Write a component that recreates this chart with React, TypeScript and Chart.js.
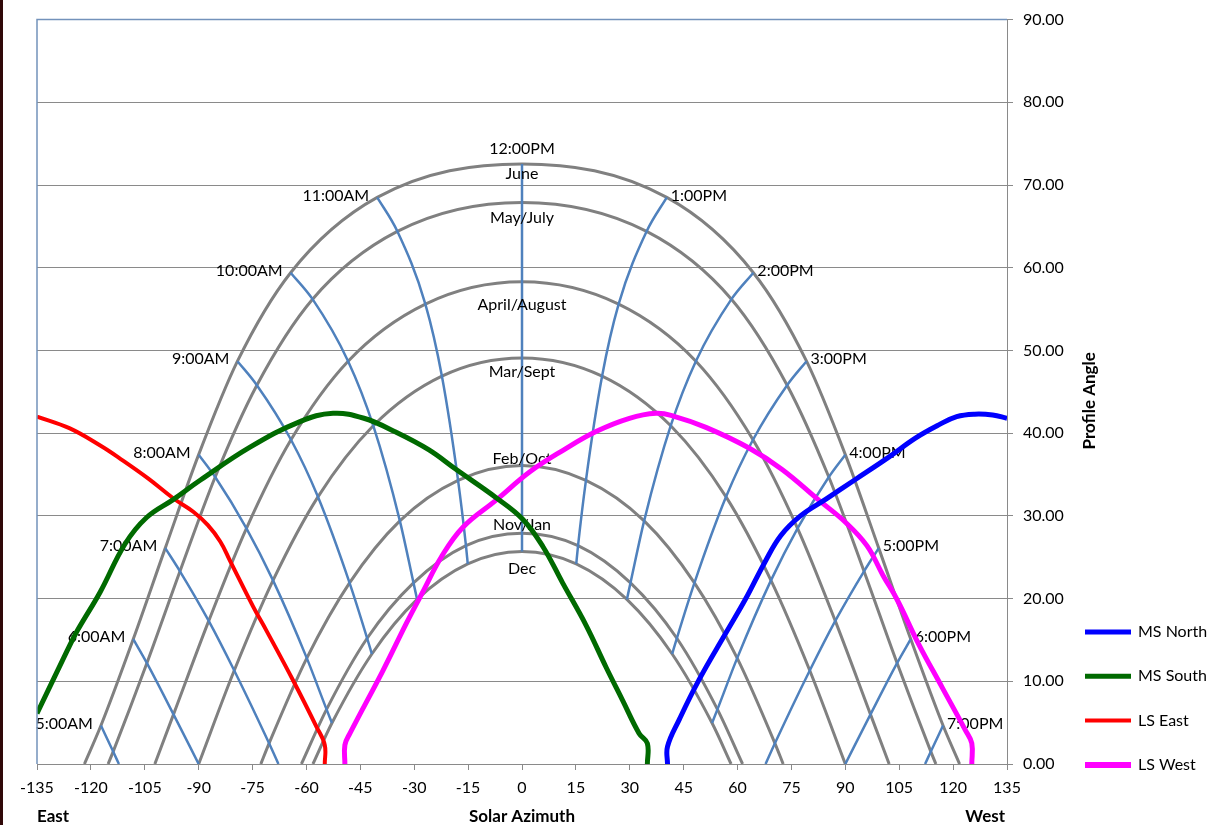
import { useEffect, useRef } from "react";
import { Chart, registerables } from "chart.js";

Chart.register(...registerables);

type P = [number, number];

// ---- axis ranges / ticks ----
const AZ_MIN = -135;
const AZ_MAX = 135;
const AZ_STEP = 15;
const ANGLE_MIN = 0;
const ANGLE_MAX = 90;
const ANGLE_STEP = 10;

// ---- monthly sun path arcs (solar azimuth, angle) ----
const MONTH_NAMES = ["June", "May/July", "April/August", "Mar/Sept", "Feb/Oct", "Nov/Jan", "Dec"];
const JUNE: P[] = [[-121.8, 0], [-117.2, 4.65], [-108.2, 15.1], [-99.3, 26.1], [-90.0, 37.4], [-79.2, 48.7], [-64.4, 59.4], [-40.3, 68.5], [0, 72.55], [40.3, 68.5], [64.4, 59.4], [79.2, 48.7], [90.0, 37.4], [99.3, 26.1], [108.2, 15.1], [117.2, 4.65], [121.8, 0]];
const MAY_JULY: P[] = [[-115.2, 0], [-113.8, 1.5], [-104.4, 12.2], [-95.2, 23.3], [-85.4, 34.7], [-73.8, 45.8], [-58.3, 56.2], [-34.7, 64.4], [0, 67.9], [34.7, 64.4], [58.3, 56.2], [73.8, 45.8], [85.4, 34.7], [95.2, 23.3], [104.4, 12.2], [113.8, 1.5], [115.2, 0]];
const APRIL_AUGUST: P[] = [[-102.2, 0], [-97.0, 6.0], [-87.2, 17.3], [-76.7, 28.5], [-64.3, 39.2], [-48.4, 48.7], [-26.9, 55.6], [0, 58.3], [26.9, 55.6], [48.4, 48.7], [64.3, 39.2], [76.7, 28.5], [87.2, 17.3], [97.0, 6.0], [102.2, 0]];
const MAR_SEPT: P[] = [[-90, 0], [-80.1, 11.3], [-69.3, 22.2], [-56.8, 32.3], [-41.4, 40.9], [-22.3, 46.9], [0, 49.1], [22.3, 46.9], [41.4, 40.9], [56.8, 32.3], [69.3, 22.2], [80.1, 11.3], [90, 0]];
const FEB_OCT: P[] = [[-72.7, 0], [-70.4, 2.5], [-59.9, 12.8], [-48.0, 21.9], [-34.0, 29.4], [-17.8, 34.3], [0, 36.1], [17.8, 34.3], [34.0, 29.4], [48.0, 21.9], [59.9, 12.8], [70.4, 2.5], [72.7, 0]];
const NOV_JAN: P[] = [[-61.4, 0], [-54.4, 6.6], [-43.1, 15.2], [-30.2, 21.9], [-15.6, 26.4], [0, 27.9], [15.6, 26.4], [30.2, 21.9], [43.1, 15.2], [54.4, 6.6], [61.4, 0]];
const DEC: P[] = [[-58.2, 0], [-52.9, 4.95], [-41.8, 13.3], [-29.2, 19.9], [-15.1, 24.2], [0, 25.7], [15.1, 24.2], [29.2, 19.9], [41.8, 13.3], [52.9, 4.95], [58.2, 0]];
const MONTH_ARCS: P[][] = [JUNE, MAY_JULY, APRIL_AUGUST, MAR_SEPT, FEB_OCT, NOV_JAN, DEC];

// ---- hour lines ----
const HOUR_NAMES = ["5:00AM", "6:00AM", "7:00AM", "8:00AM", "9:00AM", "10:00AM", "11:00AM", "12:00PM", "1:00PM", "2:00PM", "3:00PM", "4:00PM", "5:00PM", "6:00PM", "7:00PM"];
const H05: P[] = [[-117.2, 4.65], [-113.8, 1.5], [-112.2, 0]];
const H06: P[] = [[-108.2, 15.1], [-104.4, 12.2], [-97.0, 6.0], [-90.0, 0]];
const H07: P[] = [[-99.3, 26.1], [-95.2, 23.3], [-87.2, 17.3], [-80.1, 11.3], [-70.4, 2.5], [-67.8, 0]];
const H08: P[] = [[-90.0, 37.4], [-85.4, 34.7], [-76.7, 28.5], [-69.3, 22.2], [-59.9, 12.8], [-54.4, 6.6], [-52.9, 4.95]];
const H09: P[] = [[-79.2, 48.7], [-73.8, 45.8], [-64.3, 39.2], [-56.8, 32.3], [-48.0, 21.9], [-43.1, 15.2], [-41.8, 13.3]];
const H10: P[] = [[-64.4, 59.4], [-58.3, 56.2], [-48.4, 48.7], [-41.4, 40.9], [-34.0, 29.4], [-30.2, 21.9], [-29.2, 19.9]];
const H11: P[] = [[-40.3, 68.5], [-34.7, 64.4], [-26.9, 55.6], [-22.3, 46.9], [-17.8, 34.3], [-15.6, 26.4], [-15.1, 24.2]];
const H12: P[] = [[0, 72.55], [0, 67.9], [0, 58.3], [0, 49.1], [0, 36.1], [0, 27.9], [0, 25.7]];
const H13: P[] = [[40.3, 68.5], [34.7, 64.4], [26.9, 55.6], [22.3, 46.9], [17.8, 34.3], [15.6, 26.4], [15.1, 24.2]];
const H14: P[] = [[64.4, 59.4], [58.3, 56.2], [48.4, 48.7], [41.4, 40.9], [34.0, 29.4], [30.2, 21.9], [29.2, 19.9]];
const H15: P[] = [[79.2, 48.7], [73.8, 45.8], [64.3, 39.2], [56.8, 32.3], [48.0, 21.9], [43.1, 15.2], [41.8, 13.3]];
const H16: P[] = [[90.0, 37.4], [85.4, 34.7], [76.7, 28.5], [69.3, 22.2], [59.9, 12.8], [54.4, 6.6], [52.9, 4.95]];
const H17: P[] = [[99.3, 26.1], [95.2, 23.3], [87.2, 17.3], [80.1, 11.3], [70.4, 2.5], [67.8, 0]];
const H18: P[] = [[108.2, 15.1], [104.4, 12.2], [97.0, 6.0], [90.0, 0]];
const H19: P[] = [[117.2, 4.65], [113.8, 1.5], [112.2, 0]];
const HOUR_LINES: P[][] = [H05, H06, H07, H08, H09, H10, H11, H12, H13, H14, H15, H16, H17, H18, H19];

// ---- profile-angle series ----
const SERIES_NAMES = ["MS North", "MS South", "LS East", "LS West"];
const MS_NORTH: P[] = [[40.5, 0], [40.5, 2.1], [43.8, 5.4], [49.3, 10.2], [56.7, 15.8], [62.3, 20.0], [67.6, 24.4], [72.0, 27.6], [77.5, 30.0], [84.5, 32.0], [92.8, 34.4], [102.1, 37.1], [109.5, 39.4], [116.0, 41.0], [121.0, 42.0], [126.0, 42.3], [131.0, 42.2], [135.0, 41.8]];
const MS_SOUTH: P[] = [[-135, 6.1], [-126.6, 13.7], [-123.8, 16.1], [-117.4, 20.8], [-110.5, 26.6], [-104.5, 29.8], [-97.0, 32.0], [-89.6, 34.3], [-75.7, 38.3], [-61.8, 41.4], [-52.6, 42.4], [-44.0, 41.8], [-35.0, 40.1], [-26.0, 38.0], [-18.3, 35.6], [-7.2, 32.2], [0.2, 29.6], [5.8, 26.3], [11.3, 21.9], [17.8, 16.8], [23.4, 11.7], [28.0, 7.7], [32.6, 3.7], [34.9, 2.5], [34.9, 0]];
const LS_EAST: P[] = [[-135, 42.0], [-126, 40.6], [-117.4, 38.5], [-111.8, 36.9], [-104, 34.5], [-97, 32.1], [-91.5, 30.5], [-87.5, 28.9], [-84, 26.9], [-81.3, 24.6], [-74.8, 19.0], [-71.1, 16.1], [-63.7, 10.1], [-57.2, 4.5], [-54.9, 2.3], [-54.9, 0]];
const LS_WEST: P[] = [[-49.3, 0], [-49.3, 2.3], [-47.9, 3.7], [-38.7, 11.3], [-32.2, 17.0], [-27.5, 20.9], [-22.5, 25.0], [-16.5, 28.6], [-7.2, 31.9], [2.1, 35.3], [11.3, 37.9], [20.6, 40.2], [29.9, 41.8], [37.3, 42.4], [41.9, 42.1], [51.2, 40.7], [63.2, 38.2], [72.4, 35.6], [82.6, 31.9], [90.1, 29.2], [96.0, 26.4], [100.5, 22.8], [104.5, 19.8], [110.4, 14.5], [116.9, 9.3], [123.4, 4.1], [125.2, 2.5], [125.2, 0]];
const SERIES: P[][] = [MS_NORTH, MS_SOUTH, LS_EAST, LS_WEST];

// ---- styles (kept apart from data) ----
const SERIES_COLORS = ["#0000ff", "#006a00", "#ff0000", "#ff00ff"];
const SERIES_WIDTHS = [5, 5, 4, 5];
const LEGEND_WIDTHS = [5, 5, 4, 6];
const ARC_COLOR = "#808080";
const HOUR_COLOR = "#4f81bd";
const GRID_COLOR = "#8a8a8a";
const FONT = "Lato, 'Open Sans', sans-serif";
const MONTH_LABEL_OFFSETS = [10, 15, 23, 14, -7, -8, 17];

const toXY = (pts: P[]) => pts.map(([x, y]) => ({ x, y }));

const labelsPlugin = {
  id: "sunPathLabels",
  afterDatasetDraw(chart: any, args: any) {
    // draw labels after the hour lines, beneath the coloured series
    if (args.index !== SERIES.length) return;
    const { ctx, scales } = chart;
    const xs = scales.x;
    const ys = scales.y;
    ctx.save();
    ctx.font = `16px ${FONT}`;
    ctx.fillStyle = "#000";
    ctx.textBaseline = "middle";
    HOUR_LINES.forEach((pts, i) => {
      const [az, alt] = pts[0];
      const px = xs.getPixelForValue(az);
      const py = ys.getPixelForValue(alt);
      if (az < 0) {
        ctx.textAlign = "right";
        ctx.fillText(HOUR_NAMES[i], px - 8, py - 2);
      } else if (az > 0) {
        ctx.textAlign = "left";
        ctx.fillText(HOUR_NAMES[i], px + 4, py - 2);
      } else {
        ctx.textAlign = "center";
        ctx.fillText(HOUR_NAMES[i], px, py - 15);
      }
    });
    MONTH_ARCS.forEach((pts, i) => {
      const peak = pts.reduce((a, b) => (b[1] > a[1] ? b : a));
      ctx.textAlign = "center";
      ctx.fillText(MONTH_NAMES[i], xs.getPixelForValue(peak[0]), ys.getPixelForValue(peak[1]) + MONTH_LABEL_OFFSETS[i]);
    });
    ctx.restore();
  },
  afterDraw(chart: any) {
    const { ctx, chartArea, scales } = chart;
    const xs = scales.x;
    ctx.save();
    // plot frame (left and top)
    ctx.strokeStyle = "#7392bb";
    ctx.lineWidth = 1.5;
    ctx.beginPath();
    ctx.moveTo(chartArea.left, chartArea.bottom);
    ctx.lineTo(chartArea.left, chartArea.top);
    ctx.lineTo(chartArea.right, chartArea.top);
    ctx.stroke();

    // legend
    const legendX = chartArea.right + 78;
    SERIES_NAMES.forEach((name, i) => {
      const y = 632 + i * 44.3;
      ctx.strokeStyle = SERIES_COLORS[i];
      ctx.lineWidth = LEGEND_WIDTHS[i];
      ctx.beginPath();
      ctx.moveTo(legendX, y);
      ctx.lineTo(legendX + 46, y);
      ctx.stroke();
      ctx.fillStyle = "#000";
      ctx.font = `16px ${FONT}`;
      ctx.textAlign = "left";
      ctx.textBaseline = "middle";
      ctx.fillText(name, legendX + 53, y);
    });

    // axis titles
    ctx.fillStyle = "#000";
    ctx.font = `bold 17px ${FONT}`;
    ctx.textBaseline = "middle";
    ctx.textAlign = "center";
    ctx.fillText("Solar Azimuth", xs.getPixelForValue(0), chartArea.bottom + 53);
    ctx.textAlign = "left";
    ctx.fillText("East", chartArea.left, chartArea.bottom + 53);
    ctx.textAlign = "right";
    ctx.fillText("West", chartArea.right - 2, chartArea.bottom + 53);

    ctx.translate(chartArea.right + 83, (chartArea.top + chartArea.bottom) / 2 + 9);
    ctx.rotate(-Math.PI / 2);
    ctx.textAlign = "center";
    ctx.fillText("Profile Angle", 0, 0);
    ctx.restore();
  },
};

export default function App() {
  const ref = useRef<HTMLCanvasElement | null>(null);

  useEffect(() => {
    document.body.style.margin = "0";
    if (!ref.current) return;

    const colored = SERIES.map((pts, i) => ({
      label: SERIES_NAMES[i],
      data: toXY(pts),
      showLine: true,
      borderColor: SERIES_COLORS[i],
      backgroundColor: SERIES_COLORS[i],
      borderWidth: SERIES_WIDTHS[i],
      pointRadius: 0,
      tension: 0.4,
      borderJoinStyle: "round" as const,
      fill: false,
    }));
    const hours = HOUR_LINES.map((pts, i) => ({
      label: HOUR_NAMES[i],
      data: toXY(pts),
      showLine: true,
      borderColor: HOUR_COLOR,
      backgroundColor: HOUR_COLOR,
      borderWidth: 2.5,
      pointRadius: 0,
      cubicInterpolationMode: "monotone" as const,
      fill: false,
    }));
    const arcs = MONTH_ARCS.map((pts, i) => ({
      label: MONTH_NAMES[i],
      data: toXY(pts),
      showLine: true,
      borderColor: ARC_COLOR,
      backgroundColor: ARC_COLOR,
      borderWidth: 3,
      pointRadius: 0,
      cubicInterpolationMode: "monotone" as const,
      fill: false,
    }));

    const chart = new Chart(ref.current, {
      type: "scatter",
      data: { datasets: [...colored, ...hours, ...arcs] as any },
      plugins: [labelsPlugin],
      options: {
        animation: false,
        responsive: false,
        maintainAspectRatio: false,
        layout: { padding: { left: 37, top: 16, right: 0, bottom: 0 } },
        plugins: {
          legend: { display: false },
          tooltip: { enabled: false },
          title: { display: false },
        },
        scales: {
          x: {
            type: "linear",
            min: AZ_MIN,
            max: AZ_MAX,
            ticks: {
              stepSize: AZ_STEP,
              color: "#000",
              font: { family: FONT, size: 16 },
              padding: 8,
              maxRotation: 0,
              autoSkip: false,
            },
            grid: { drawOnChartArea: false, drawTicks: true, tickLength: 6, color: GRID_COLOR },
            border: { color: GRID_COLOR },
            afterFit: (s: any) => {
              s.height = 61;
            },
          },
          y: {
            type: "linear",
            position: "right",
            min: ANGLE_MIN,
            max: ANGLE_MAX,
            ticks: {
              stepSize: ANGLE_STEP,
              color: "#000",
              font: { family: FONT, size: 16 },
              padding: 10,
              callback: (v: any) => Number(v).toFixed(2),
            },
            grid: { color: GRID_COLOR, tickLength: 6, lineWidth: 1 },
            border: { color: GRID_COLOR },
            afterFit: (s: any) => {
              s.width = 215;
            },
          },
        },
      } as any,
    });
    return () => chart.destroy();
  }, []);

  return (
    <div style={{ position: "relative", width: 1222, height: 825, background: "#fff" }}>
      <canvas ref={ref} width={1222} height={825} style={{ display: "block" }} />
      <div style={{ position: "absolute", left: 0, top: 0, width: 3, height: 825, background: "#300808" }} />
    </div>
  );
}
